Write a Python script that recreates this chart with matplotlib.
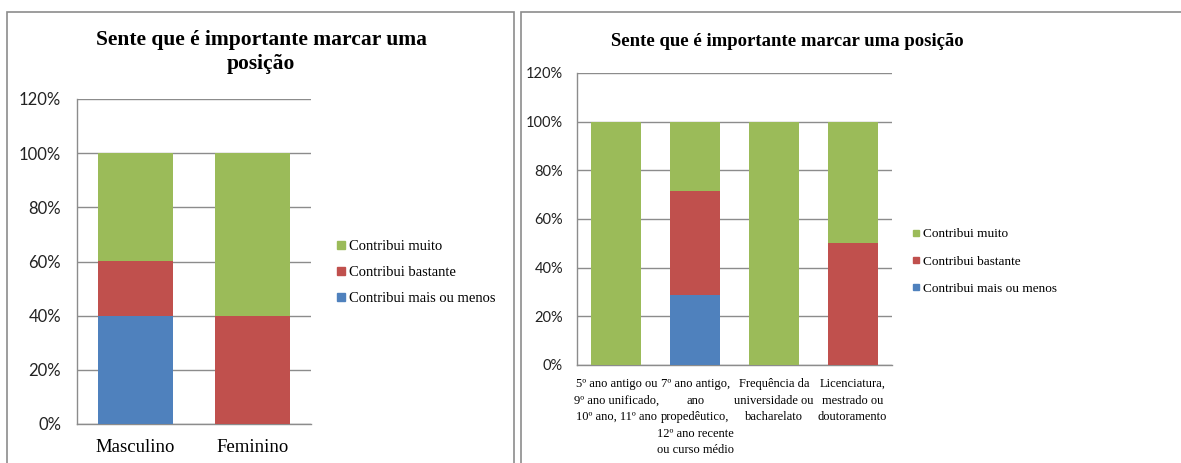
import matplotlib
matplotlib.use("Agg")
import matplotlib.pyplot as plt
from matplotlib.patches import Rectangle
from matplotlib.lines import Line2D
from matplotlib.ticker import FuncFormatter

title = "Sente que é importante marcar uma posição"
series = ["Contribui mais ou menos", "Contribui bastante", "Contribui muito"]
colors = ["#4F81BD", "#C0504D", "#9BBB59"]

# Left chart: by gender
cats_left = ["Masculino", "Feminino"]
left_mais_ou_menos = [0.40, 0.0]
left_bastante = [0.20, 0.40]
left_muito = [0.40, 0.60]

# Right chart: by education
cats_right = ["5º ano antigo ou\n9º ano unificado,\n10º ano, 11º ano",
              "7º ano antigo,\nano\npropedêutico,\n12º ano recente\nou curso médio",
              "Frequência da\nuniversidade ou\nbacharelato",
              "Licenciatura,\nmestrado ou\ndoutoramento"]
right_mais_ou_menos = [0.0, 0.286, 0.0, 0.0]
right_bastante = [0.0, 0.428, 0.0, 0.50]
right_muito = [1.00, 0.286, 1.00, 0.50]

W, H = 1181, 463
fig = plt.figure(figsize=(W / 100, H / 100), dpi=100)
fig.patch.set_facecolor("white")

serif = ["Liberation Serif", "DejaVu Serif"]
sans = ["Lato", "DejaVu Sans"]

# panel borders
fig.add_artist(Rectangle((7 / W, -0.1), 507 / W, (463 - 12) / H + 0.1, transform=fig.transFigure,
                         fill=False, edgecolor="#8c8c8c", lw=1.2))
fig.add_artist(Rectangle((521 / W, -0.1), 700 / W, (463 - 12) / H + 0.1, transform=fig.transFigure,
                         fill=False, edgecolor="#8c8c8c", lw=1.2))


def make_ax(px_left, px_top, px_right, px_bottom):
    return fig.add_axes([px_left / W, (H - px_bottom) / H, (px_right - px_left) / W, (px_bottom - px_top) / H])


def style_ax(ax, cats, data, width, xfs, xpad, yfs, ypad, xls):
    x = list(range(len(cats)))
    bottom = [0.0] * len(cats)
    for name, vals, c in zip(series, data, colors):
        ax.bar(x, vals, width, bottom=bottom, color=c, label=name, zorder=3)
        bottom = [b + v for b, v in zip(bottom, vals)]
    ax.set_ylim(0, 1.2)
    ax.set_xlim(-0.5, len(cats) - 0.5)
    ax.set_yticks([0, 0.2, 0.4, 0.6, 0.8, 1.0, 1.2])
    ax.yaxis.set_major_formatter(FuncFormatter(lambda v, p: f"{round(v * 100)}%"))
    ax.grid(axis="y", color="#8c8c8c", lw=1.0, zorder=0)
    for s in ["top", "right"]:
        ax.spines[s].set_visible(False)
    for s in ["left", "bottom"]:
        ax.spines[s].set_color("#8c8c8c")
        ax.spines[s].set_linewidth(1.0)
    ax.set_xticks(x)
    ax.set_xticklabels(cats, fontfamily=serif, fontsize=xfs, linespacing=xls)
    ax.tick_params(axis="x", length=0, pad=xpad)
    ax.tick_params(axis="y", length=0, pad=ypad, labelsize=yfs, labelcolor="#222222")
    for t in ax.get_yticklabels():
        t.set_fontfamily(sans)


ax1 = make_ax(77, 99, 311, 424)
style_ax(ax1, cats_left, [left_mais_ou_menos, left_bastante, left_muito], 0.64, 13.5, 11, 12, 11.5, 1.0)

ax2 = make_ax(577, 73, 892, 365)
style_ax(ax2, cats_right, [right_mais_ou_menos, right_bastante, right_muito], 0.635, 9, 9.5, 10.5, 10, 1.5)

fig.text(261 / W, 1 - 52 / H, "Sente que é importante marcar uma\nposição", ha="center", va="center",
         fontfamily=serif, fontweight="bold", fontsize=15.5, linespacing=1.2)
fig.text(787 / W, 1 - 41 / H, title, ha="center", va="center",
         fontfamily=serif, fontweight="bold", fontsize=13.5)

handles_l = [Line2D([], [], marker="s", ls="none", color=c, markersize=5.5) for c in colors[::-1]]
handles_r = [Line2D([], [], marker="s", ls="none", color=c, markersize=4.5) for c in colors[::-1]]
labels = series[::-1]
fig.legend(handles_l, labels, loc="center left", bbox_to_anchor=(337 / W, 1 - 272.5 / H),
           frameon=False, prop={"family": serif, "size": 10.5}, handlelength=0.5,
           handletextpad=0.35, labelspacing=0.9, borderpad=0, borderaxespad=0)
fig.legend(handles_r, labels, loc="center left", bbox_to_anchor=(913 / W, 1 - 261.5 / H),
           frameon=False, prop={"family": serif, "size": 9.5}, handlelength=0.4,
           handletextpad=0.35, labelspacing=1.15, borderpad=0, borderaxespad=0)

fig.savefig("out.png", dpi=100, facecolor="white")
